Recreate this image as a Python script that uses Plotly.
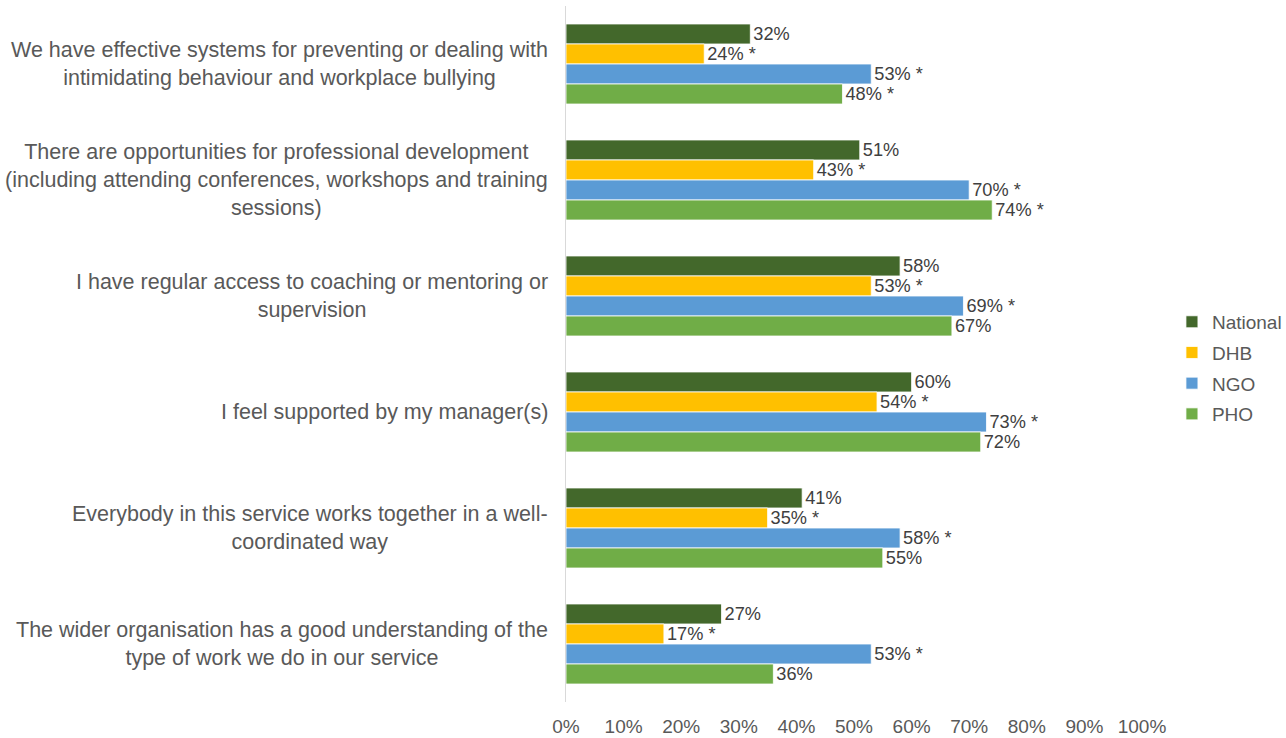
import plotly.graph_objects as go

# Survey statements (top to bottom) and group results
statements = [
    "We have effective systems for preventing or dealing with<br>intimidating behaviour and workplace bullying",
    "There are opportunities for professional development<br>(including attending conferences, workshops and training<br>sessions)",
    "I have regular access to coaching or mentoring or<br>supervision",
    "I feel supported by my manager(s)",
    "Everybody in this service works together in a well-<br>coordinated way",
    "The wider organisation has a good understanding of the<br>type of work we do in our service",
]
series_names = ["National", "DHB", "NGO", "PHO"]
national = [32, 51, 58, 60, 41, 27]
dhb = [24, 43, 53, 54, 35, 17]
ngo = [53, 70, 69, 73, 58, 53]
pho = [48, 74, 67, 72, 55, 36]
# significance marker flags (1 = significantly different from national)
national_sig = [0, 0, 0, 0, 0, 0]
dhb_sig = [1, 1, 1, 1, 1, 1]
ngo_sig = [1, 1, 1, 1, 1, 1]
pho_sig = [1, 1, 0, 0, 0, 0]
tick_vals = [0, 10, 20, 30, 40, 50, 60, 70, 80, 90, 100]

colors = ["#43682B", "#FFC000", "#5B9BD5", "#70AD47"]
FONT = "Liberation Sans, Arial, sans-serif"
GREY = "#595959"

cat_idx = list(range(len(statements)))

fig = go.Figure()
for name, vals, sig, col in zip(
    series_names,
    [national, dhb, ngo, pho],
    [national_sig, dhb_sig, ngo_sig, pho_sig],
    colors,
):
    labels = [f"{v}% *" if s else f"{v}%" for v, s in zip(vals, sig)]
    fig.add_trace(
        go.Bar(
            name=name,
            legendgroup=name,
            y=cat_idx,
            x=[v / 100 for v in vals],
            orientation="h",
            marker=dict(color=col, line=dict(color="white", width=0.8)),
            text=labels,
            textposition="outside",
            textfont=dict(family=FONT, size=20, color="#404040"),
            cliponaxis=False,
            hoverinfo="skip",
        )
    )

# Statement labels as centred multi-line annotations to the left of the axis
for i, s in enumerate(statements):
    fig.add_annotation(
        xref="paper", yref="y",
        x=-0.028, y=i,
        xanchor="right", yanchor="middle",
        align="center",
        text=s,
        showarrow=False,
        font=dict(family=FONT, size=21.5, color=GREY),
    )

fig.update_layout(
    width=1286,
    height=738,
    margin=dict(l=566, r=144, t=6, b=36, autoexpand=False),
    paper_bgcolor="white",
    plot_bgcolor="white",
    barmode="group",
    bargap=0.31,
    bargroupgap=0,
    font=dict(family=FONT, size=19, color=GREY),
    legend=dict(
        x=1.052, xanchor="left",
        y=0.48, yanchor="middle",
        font=dict(family=FONT, size=19, color=GREY),
        traceorder="grouped",
        tracegroupgap=3,
        itemwidth=30,
    ),
    xaxis=dict(
        range=[0, 1],
        tickvals=[v / 100 for v in tick_vals],
        ticktext=[f"{v}%" for v in tick_vals],
        showgrid=False,
        zeroline=False,
        showline=False,
        ticks="",
        ticklabelstandoff=11,
        tickfont=dict(family=FONT, size=19, color=GREY),
    ),
    yaxis=dict(
        range=[5.5, -0.5],
        showticklabels=False,
        showgrid=False,
        zeroline=False,
        showline=True,
        linecolor="#D9D9D9",
        linewidth=1,
        ticks="",
    ),
)

fig.write_html("out.html")
